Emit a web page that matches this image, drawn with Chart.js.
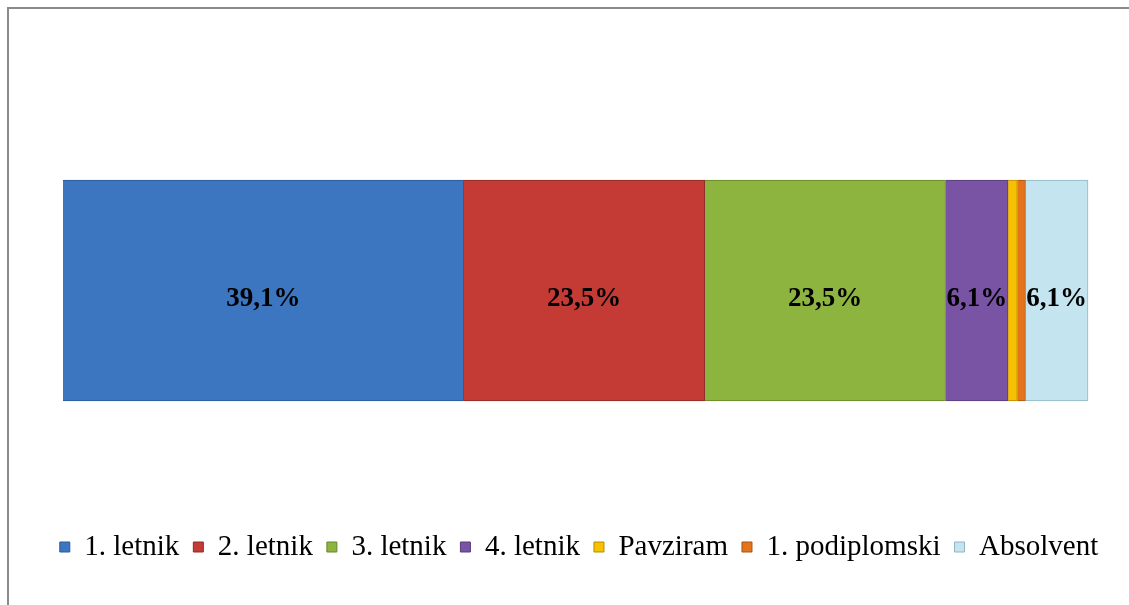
<!DOCTYPE html>
<html lang="sl">
<head>
    <meta charset="UTF-8">
    <title>Letnik</title>
    <style>
        html, body { margin: 0; padding: 0; background: #fff; }
        #wrap { position: relative; width: 1129px; height: 605px; }
        /* okvir okoli grafa (samo levi in zgornji rob je viden) */
        #frame {
            position: absolute; left: 7px; top: 7px; right: -10px; bottom: -10px;
            border-left: 2px solid #8a8a8a; border-top: 2px solid #8a8a8a;
            pointer-events: none;
        }
    </style>
</head>
<body>
    <div id="wrap">
        <canvas id="letnikChart" width="1129" height="605"></canvas>
        <div id="frame"></div>
    </div>

    <script src="https://cdn.jsdelivr.net/npm/chart.js"></script>
    <script>
        // podatki
        const categories = ['letnik'];
        const seriesNames = ['1. letnik', '2. letnik', '3. letnik', '4. letnik', 'Pavziram', '1. podiplomski', 'Absolvent'];
        const seriesValues = [39.1, 23.5, 23.5, 6.1, 0.9, 0.8, 6.1];
        const showLabel = [true, true, true, true, false, false, true];

        const fills = ['#3c76c1', '#c43b36', '#8db43f', '#7954a4', '#f7c000', '#e4741c', '#c4e5f0'];
        const borders = ['#2c5a94', '#8f2a26', '#67852c', '#573c78', '#b58d00', '#a9540f', '#8fb6c2'];

        // napisi z odstotki na sredini segmentov
        const barLabels = {
            id: 'barLabels',
            afterDatasetsDraw(chart) {
                const ctx = chart.ctx;
                ctx.save();
                ctx.font = 'bold 27px "Liberation Serif", "Times New Roman", serif';
                ctx.fillStyle = '#000';
                ctx.textAlign = 'center';
                ctx.textBaseline = 'middle';
                chart.data.datasets.forEach((ds, i) => {
                    if (!showLabel[i]) return;
                    const bar = chart.getDatasetMeta(i).data[0];
                    const cx = (bar.x + bar.base) / 2;
                    ctx.fillText(ds.data[0].toFixed(1).replace('.', ',') + '%', cx, bar.y + 9);
                });
                ctx.restore();
            }
        };

        const ctx = document.getElementById('letnikChart').getContext('2d');
        new Chart(ctx, {
            type: 'bar',
            data: {
                labels: categories,
                datasets: seriesNames.map((name, i) => ({
                    label: name,
                    data: [seriesValues[i]],
                    backgroundColor: fills[i],
                    borderColor: borders[i],
                    borderWidth: 1,
                    barThickness: 221
                }))
            },
            options: {
                indexAxis: 'y',
                responsive: false,
                animation: false,
                layout: { padding: { left: 34, right: 5, top: 62.5, bottom: 33.5 } },
                scales: {
                    x: { stacked: true, display: false, min: -2.829, max: 103.512 },
                    y: { stacked: true, display: false }
                },
                plugins: {
                    tooltip: { enabled: false },
                    legend: {
                        position: 'bottom',
                        labels: {
                            boxWidth: 10,
                            boxHeight: 10,
                            padding: 14,
                            color: '#000',
                            font: { family: '"Liberation Serif", "Times New Roman", serif', size: 29 }
                        }
                    }
                }
            },
            plugins: [barLabels]
        });
    </script>
</body>
</html>
